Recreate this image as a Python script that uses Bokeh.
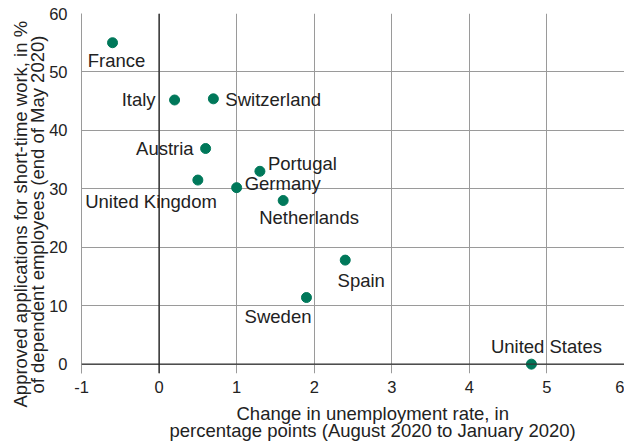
from bokeh.plotting import figure
from bokeh.models import ColumnDataSource, Span, Title, FixedTicker, Range1d
from bokeh.embed import file_html
from bokeh.resources import INLINE
from bokeh.core.properties import value

# ---- data ----
countries = ["France", "Italy", "Switzerland", "Austria", "United Kingdom", "Germany",
             "Portugal", "Netherlands", "Sweden", "Spain", "United States"]
unemp_change = [-0.6, 0.2, 0.7, 0.6, 0.5, 1.0, 1.3, 1.6, 1.9, 2.4, 4.8]
short_time = [55.0, 45.2, 45.4, 36.9, 31.5, 30.2, 33.0, 28.0, 11.4, 17.8, 0.0]
x_ticks = [-1, 0, 1, 2, 3, 4, 5, 6]
x_tick_labels = ["-1", "0", "1", "2", "3", "4", "5", "6"]
y_ticks = [0, 10, 20, 30, 40, 50, 60]
x_title = ["Change in unemployment rate, in", "percentage points (August 2020 to January 2020)"]
y_title = ["Approved applications for short-time work, in %", "of dependent employees (end of May 2020)"]

# ---- label layout (pixel offsets, alignment) ----
label_layout = {
    "France": ("center", 4, 18),
    "Italy": ("right", -19, 0),
    "Switzerland": ("left", 12, 1),
    "Austria": ("right", -12, 0),
    "United Kingdom": ("right", 19, 21),
    "Germany": ("left", 8, -4),
    "Portugal": ("left", 8, -8),
    "Netherlands": ("left", -24, 17),
    "Sweden": ("right", 5, 19),
    "Spain": ("center", 16, 20),
    "United States": ("center", 15, -18),
}

FONT = "Liberation Sans"
TXT = "#222222"
GRID = "#9a9a9a"
DOT = "#00785a"
TSIZE = "18.5px"

src = ColumnDataSource(dict(
    x=unemp_change, y=short_time, name=countries,
    align=[label_layout[c][0] for c in countries],
    dx=[label_layout[c][1] for c in countries],
    dy=[label_layout[c][2] for c in countries],
))

p = figure(width=624, height=445, output_backend="svg", toolbar_location=None,
           x_range=Range1d(-1, 6.0), y_range=Range1d(-1.6, 60),
           min_border_left=81, min_border_right=0, min_border_top=13, min_border_bottom=72)
p.outline_line_color = None
p.background_fill_color = "white"

p.xaxis.ticker = FixedTicker(ticks=x_ticks)
p.xaxis.major_label_overrides = {t: s for t, s in zip(x_ticks, x_tick_labels)}
p.yaxis.ticker = FixedTicker(ticks=y_ticks)
for ax in (p.xaxis[0], p.yaxis[0]):
    ax.major_tick_line_color = None
    ax.minor_tick_line_color = None
    ax.major_label_text_font = FONT
    ax.major_label_text_font_size = "16.5px"
    ax.major_label_text_color = TXT
p.xaxis.axis_line_color = None
p.xaxis.major_label_standoff = 1
p.yaxis.axis_line_color = GRID
p.yaxis.major_label_standoff = 8

p.xgrid.grid_line_color = GRID
p.ygrid.grid_line_color = GRID

p.add_layout(Span(location=0, dimension="width", line_color="#333333", line_width=1.3))
p.add_layout(Span(location=0, dimension="height", line_color="#222222", line_width=1.3))

p.scatter("x", "y", source=src, size=10, fill_color=DOT, line_color=DOT)
p.text("x", "y", text="name", source=src, x_offset="dx", y_offset="dy",
       text_align="align", text_baseline="middle",
       text_font=value(FONT), text_font_size=TSIZE, text_color=TXT)

# axis titles (closest to the frame first)
def ttl(text, offset, standoff):
    return Title(text=text, align="left", vertical_align="middle",
                 offset=offset, standoff=standoff,
                 text_font=FONT, text_font_size=TSIZE, text_font_style="normal",
                 text_color=TXT)

p.add_layout(ttl(y_title[1], -20, -5), "left")
p.add_layout(ttl(y_title[0], -34, -7), "left")
p.add_layout(ttl(x_title[0], 155, 12), "below")
p.add_layout(ttl(x_title[1], 88, -24), "below")

open("out.html", "w").write(file_html(p, INLINE))
